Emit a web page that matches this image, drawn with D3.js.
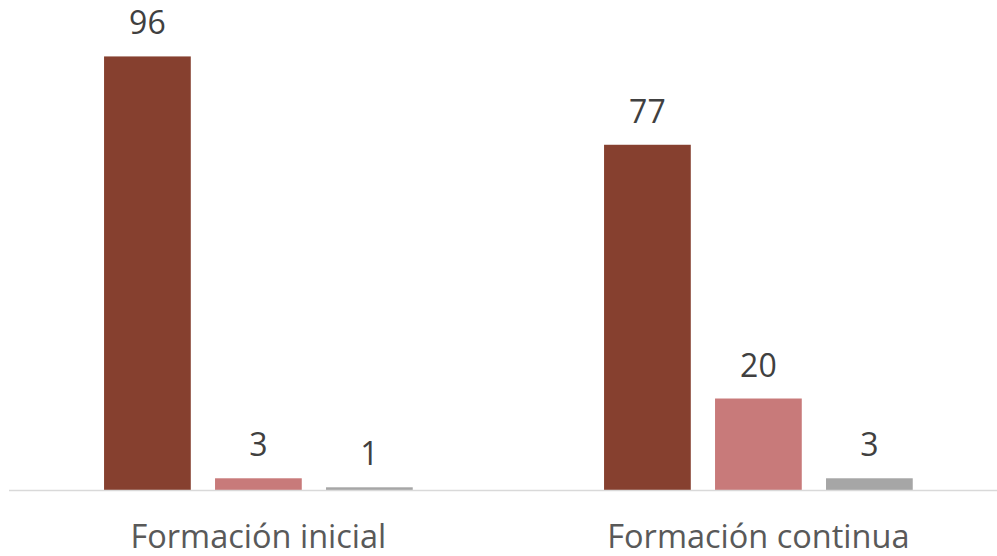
<!DOCTYPE html>
<html>
<head>
<meta charset="utf-8">
<script src="https://cdn.jsdelivr.net/npm/d3@7"></script>
<style>
	body { margin: 0; background: #fff; }
	text { font-family: "Open Sans", sans-serif; }
</style>
</head>
<body>
<script>
// datos (alturas estimadas, etiquetas redondeadas)
var categorias = ["Formación inicial", "Formación continua"];
var series = ["s1", "s2", "s3"];
var valores = [
	[96.2, 2.6, 0.6],
	[76.6, 20.3, 2.6]
];
var colores = ["#86402F", "#C87A7A", "#A6A6A6"];

var width = 997, height = 556;
var base = 490;

var svg = d3.select("body").append("svg")
	.attr("width", width)
	.attr("height", height);

var x0 = d3.scaleBand().domain(categorias)
	.range([8.4, 1008.4])
	.paddingInner(0.3826)
	.paddingOuter(0.1913);

var x1 = d3.scaleBand().domain(series)
	.range([0, x0.bandwidth()])
	.paddingInner(0.2185)
	.paddingOuter(0);

var y = d3.scaleLinear().domain([0, 100]).range([base, base - 450.7]);

var fmt = d3.format(".0f");

// grupos
var grupos = svg.selectAll(".grupo").data(categorias).enter().append("g")
	.attr("class", "grupo")
	.attr("transform", function(d){ return "translate(" + x0(d) + ",0)"; });

grupos.selectAll("rect").data(function(d,i){ return valores[i]; }).enter().append("rect")
	.attr("x", function(d,j){ return x1(series[j]); })
	.attr("y", function(d){ return y(d); })
	.attr("width", x1.bandwidth())
	.attr("height", function(d){ return base - y(d); })
	.attr("fill", function(d,j){ return colores[j]; });

grupos.selectAll(".etiqueta").data(function(d,i){ return valores[i]; }).enter().append("text")
	.attr("class", "etiqueta")
	.attr("x", function(d,j){ return x1(series[j]) + x1.bandwidth()/2; })
	.attr("y", function(d){ return y(d) - 22; })
	.attr("text-anchor", "middle")
	.attr("font-size", 32)
	.attr("fill", "#404040")
	.text(function(d){ return fmt(d); });

// eje horizontal
svg.append("line")
	.attr("x1", 9).attr("x2", width)
	.attr("y1", base + 0.5).attr("y2", base + 0.5)
	.attr("stroke", "#D9D9D9")
	.attr("stroke-width", 1.3);

svg.selectAll(".cat").data(categorias).enter().append("text")
	.attr("class", "cat")
	.attr("x", function(d){ return x0(d) + x0.bandwidth()/2; })
	.attr("y", 548)
	.attr("text-anchor", "middle")
	.attr("font-size", 32.5)
	.attr("fill", "#595959")
	.text(function(d){ return d; });
</script>
</body>
</html>
